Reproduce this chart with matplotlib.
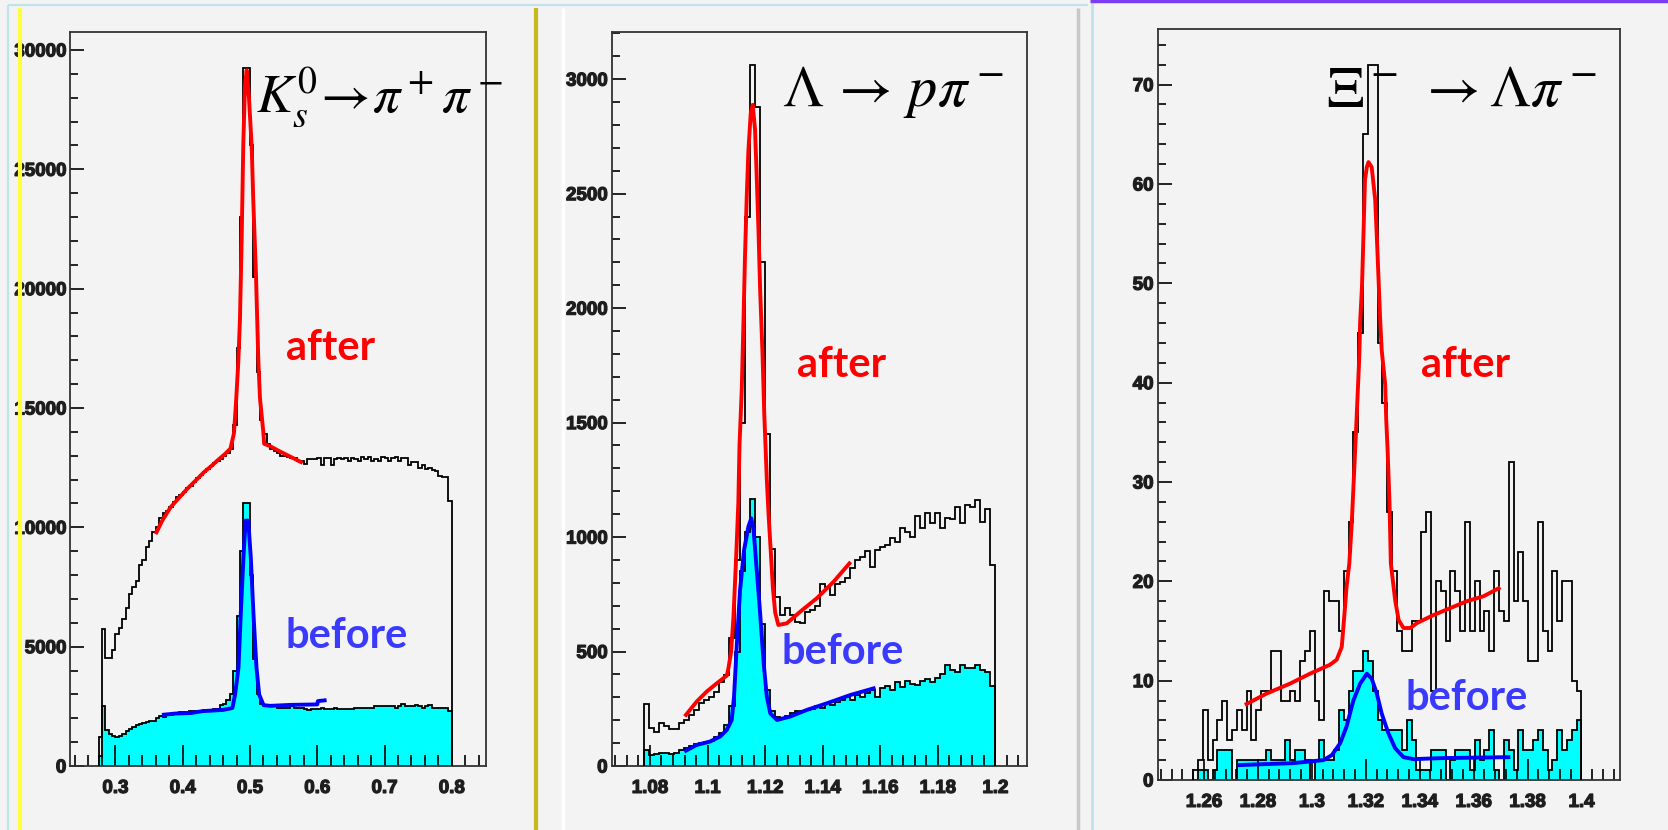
import numpy as np
import matplotlib
matplotlib.use("Agg")
import matplotlib.pyplot as plt
import matplotlib.patheffects as pe
from matplotlib.lines import Line2D
from matplotlib.ticker import MultipleLocator, FormatStrFormatter

# ---------------------------------------------------------------------------
# Data
# ---------------------------------------------------------------------------

# K0s -> pi+ pi-   (bins 0.275 .. 0.800)
k0s_range = (0.275, 0.800)
k0s_after = [1200, 5750, 4530, 4530, 4880, 5510, 5800, 6140, 6640, 7220,
             7500, 7760, 8430, 8630, 9160, 9440, 9790, 10000, 10400, 10600,
             10700, 10850, 11050, 11250, 11350, 11500, 11650, 11750, 11900, 12050,
             12200, 12320, 12450, 12550, 12700, 12800, 12850, 13000, 13100, 13300,
             14300, 17500, 23000, 29250, 29250, 26000, 20500, 16500, 14500, 13900,
             13500, 13300, 13200, 13100, 13000, 13000, 12950, 12900, 12900, 12800,
             12800, 12650, 12850, 12850, 12850, 12900, 12600, 12900, 12900, 12600,
             12850, 12900, 12850, 12900, 12800, 12900, 12850, 12800, 12950, 12850,
             12950, 12800, 12850, 12800, 12950, 12900, 12800, 12900, 12950, 12800,
             12900, 12900, 12600, 12750, 12750, 12500, 12600, 12450, 12500, 12400,
             12350, 12150, 12100, 12100, 11100]
k0s_before = [400, 2500, 1500, 1350, 1250, 1200, 1250, 1350, 1450, 1550,
              1650, 1700, 1750, 1800, 1850, 1900, 1900, 2000, 2100, 2050,
              2150, 2150, 2200, 2200, 2250, 2250, 2250, 2300, 2300, 2300,
              2300, 2350, 2350, 2350, 2400, 2400, 2550, 2600, 2750, 3000,
              4000, 6300, 9000, 11000, 11000, 8000, 4500, 3000, 2600, 2550,
              2500, 2500, 2500, 2450, 2450, 2450, 2450, 2500, 2450, 2450,
              2450, 2400, 2350, 2400, 2400, 2400, 2450, 2400, 2400, 2400,
              2450, 2400, 2400, 2400, 2400, 2400, 2450, 2450, 2450, 2450,
              2450, 2450, 2500, 2500, 2500, 2500, 2500, 2500, 2450, 2500,
              2600, 2500, 2500, 2500, 2550, 2500, 2450, 2500, 2550, 2450,
              2450, 2450, 2450, 2450, 2300]
k0s_fit_after_x = [0.361, 0.370, 0.382, 0.395, 0.407, 0.420, 0.432, 0.444, 0.452, 0.462,
                   0.471, 0.4762, 0.4792, 0.4826, 0.4851, 0.4876, 0.4901, 0.4926, 0.4951, 0.4985,
                   0.5025, 0.5049, 0.5089, 0.5124, 0.5149, 0.5198, 0.5211, 0.530, 0.541, 0.556,
                   0.5758]
k0s_fit_after_y = [9790, 10300, 10840, 11250, 11620, 11980, 12320, 12600, 12810, 13050,
                   13300, 13940, 15200, 16900, 18700, 22000, 26100, 28500, 29150, 28000,
                   26000, 23700, 20600, 17000, 15400, 14000, 13500, 13400, 13230, 13016,
                   12735]
k0s_fit_before_x = [0.372, 0.390, 0.412, 0.430, 0.460, 0.4739, 0.4778, 0.4829, 0.4863, 0.4903,
                    0.4935, 0.4975, 0.5012, 0.5052, 0.5097, 0.5137, 0.5202, 0.530, 0.560, 0.600,
                    0.601, 0.611]
k0s_fit_before_y = [2150, 2200, 2220, 2300, 2350, 2430, 2990, 4110, 6360, 8740,
                    10280, 10280, 8740, 6360, 4110, 2990, 2550, 2520, 2560, 2580,
                    2720, 2750]

# Lambda -> p pi-   (bins 1.078 .. 1.200)
lam_range = (1.078, 1.200)
lam_after = [271, 165, 150, 186, 175, 162, 162, 186, 201, 223,
             244, 274, 288, 302, 323, 368, 397, 560, 900, 1500,
             2400, 3060, 2880, 2200, 1450, 950, 740, 660, 688, 660,
             630, 623, 674, 681, 700, 797, 783, 747, 797, 805,
             820, 864, 900, 915, 937, 871, 944, 958, 966, 995,
             980, 1038, 1024, 1002, 1090, 1038, 1104, 1060, 1104, 1038,
             1082, 1078, 1131, 1060, 1141, 1133, 1162, 1067, 1122, 880]
lam_before = [70, 48, 52, 55, 58, 52, 58, 70, 77, 88,
              95, 100, 103, 110, 125, 145, 180, 260, 500, 850,
              1020, 1165, 1000, 620, 330, 240, 215, 210, 220, 230,
              240, 240, 245, 250, 260, 255, 275, 265, 280, 290,
              300, 290, 310, 300, 320, 330, 300, 340, 350, 330,
              365, 345, 370, 360, 355, 370, 380, 365, 385, 400,
              440, 420, 410, 440, 430, 430, 440, 420, 410, 350]
lam_fit_after_x = [1.0925, 1.0962, 1.0997, 1.1032, 1.1067, 1.1073, 1.1082, 1.1090, 1.1099, 1.1107,
                   1.1111, 1.1119, 1.1125, 1.1130, 1.1136, 1.1142, 1.1150, 1.1157, 1.1165, 1.1171,
                   1.1177, 1.1183, 1.1191, 1.1197, 1.1202, 1.1206, 1.1212, 1.1220, 1.1227, 1.1235,
                   1.1246, 1.1275, 1.1322, 1.1380, 1.1438, 1.1493]
lam_fit_after_y = [223, 281, 325, 361, 395, 430, 500, 650, 900, 1150,
                   1400, 1650, 1950, 2220, 2480, 2690, 2850, 2888, 2780, 2570,
                   2340, 2070, 1800, 1540, 1380, 1250, 1100, 930, 780, 670,
                   616, 623, 674, 733, 805, 885]
lam_fit_before_x = [1.0925, 1.0962, 1.1009, 1.1044, 1.1067, 1.1084, 1.1092, 1.1102, 1.1113, 1.1127,
                    1.1142, 1.1152, 1.1160, 1.1169, 1.1181, 1.1195, 1.1206, 1.1218, 1.1241, 1.1287,
                    1.1345, 1.1415, 1.1496, 1.1577]
lam_fit_before_y = [67, 92, 107, 129, 158, 201, 303, 536, 769, 944,
                    1046, 1082, 1031, 886, 696, 449, 303, 230, 201, 216,
                    245, 274, 310, 339]

# Xi- -> Lambda pi-   (bins 1.256 .. 1.400)
xi_range = (1.256, 1.400)
xi_after = [1, 2, 7, 2, 4, 6, 8, 4, 5, 7,
            5, 9, 4, 7, 9, 9, 13, 13, 8, 8,
            9, 8, 12, 13, 15, 8, 6, 19, 18, 18,
            15, 21, 26, 35, 45, 65, 72, 72, 44, 38,
            27, 21, 15, 13, 13, 16, 16, 25, 27, 9,
            20, 19, 14, 21, 19, 15, 26, 15, 20, 15,
            17, 13, 21, 17, 16, 32, 18, 23, 18, 12,
            12, 26, 15, 13, 21, 16, 20, 20, 10, 9]
xi_before = [0, 1, 1, 0, 1, 3, 3, 3, 0, 2,
             2, 2, 2, 2, 2, 3, 2, 2, 2, 4,
             2, 3, 3, 2, 0, 2, 4, 2, 2, 3,
             7, 6, 9, 11, 11, 13, 12, 9, 6, 5,
             5, 5, 5, 3, 6, 4, 1, 1, 1, 3,
             3, 3, 0, 2, 3, 3, 3, 1, 4, 2,
             3, 5, 1, 0, 4, 3, 1, 5, 3, 3,
             4, 5, 3, 1, 2, 5, 3, 4, 5, 6]
xi_fit_after_x = [1.2758, 1.2832, 1.2919, 1.2993, 1.3067, 1.3092, 1.3111, 1.3117, 1.3123, 1.3129,
                  1.3139, 1.3148, 1.3156, 1.3164, 1.3176, 1.3179, 1.3186, 1.3192, 1.3197, 1.3204,
                  1.3210, 1.3222, 1.3235, 1.3243, 1.3253, 1.3259, 1.3272, 1.3276, 1.3281, 1.3288,
                  1.3293, 1.3309, 1.3322, 1.3340, 1.3365, 1.3390, 1.3451, 1.3513, 1.3575, 1.3637,
                  1.3693]
xi_fit_after_y = [7.65, 8.7, 9.7, 10.7, 11.6, 12.1, 13.4, 15.4, 17.4, 19.5,
                  21.8, 25.8, 30.5, 35.2, 42.6, 46.0, 49.7, 55.4, 60.4, 61.7,
                  62.2, 61.7, 58.4, 53.4, 46.6, 43.3, 39.8, 36.2, 33.2, 27.9,
                  21.8, 18.1, 16.1, 15.3, 15.3, 15.8, 16.6, 17.3, 18.0, 18.5,
                  19.3]
xi_fit_before_x = [1.2731, 1.2931, 1.3043, 1.3074, 1.3105, 1.3129, 1.3154, 1.3179, 1.3204, 1.3222,
                   1.3241, 1.3259, 1.3284, 1.3309, 1.3340, 1.3377, 1.3476, 1.3729]
xi_fit_before_y = [1.5, 1.7, 2.0, 2.5, 3.7, 5.4, 8.0, 9.7, 10.7, 10.2,
                   8.7, 6.7, 4.7, 3.2, 2.3, 2.1, 2.2, 2.3]

titles = [r"$K_s^0\!\rightarrow\!\pi^+\pi^-$",
          r"$\Lambda\,\rightarrow\,p\pi^-$",
          r"$\Xi^-\;\rightarrow\Lambda\pi^-$"]

# ---------------------------------------------------------------------------
# Figure
# ---------------------------------------------------------------------------
W, H = 1668, 830
BG = "#f3f3f3"
plt.rcParams["mathtext.fontset"] = "stix"
plt.rcParams["font.family"] = ["Liberation Sans", "DejaVu Sans"]

fig = plt.figure(figsize=(W / 100, H / 100), dpi=100, facecolor=BG)
heavy = [pe.withStroke(linewidth=0.9, foreground="#1e1e1e")]


def px_axes(left, top, right, bottom):
    return fig.add_axes([left / W, 1 - bottom / H, (right - left) / W, (bottom - top) / H])


def px_text(x, y, s, **kw):
    fig.text(x / W, 1 - y / H, s, va="baseline", ha="left", **kw)


def px_line(x0, y0, x1, y1, color, lw):
    fig.add_artist(Line2D([x0 / W, x1 / W], [1 - y0 / H, 1 - y1 / H],
                          transform=fig.transFigure, color=color, lw=lw,
                          solid_capstyle="butt"))


# screenshot separators
px_line(8, 5, 1088, 5, "#bfe3ea", 1.6)
px_line(8, 5, 8, 830, "#bfe3ea", 1.6)
px_line(20, 8, 20, 830, "#ffff40", 3.0)
px_line(535.5, 8, 535.5, 830, "#c8b820", 3.0)
px_line(563, 8, 563, 830, "#ffffff", 2.5)
px_line(1078, 8, 1078, 830, "#c8c8c8", 2.5)
px_line(1092, 3, 1092, 830, "#bfe3ea", 2.0)
px_line(1090, 1.5, 1668, 1.5, "#7a3cf0", 2.5)

panels = [
    dict(rng=k0s_range, after=k0s_after, before=k0s_before,
         fa=(k0s_fit_after_x, k0s_fit_after_y), fb=(k0s_fit_before_x, k0s_fit_before_y),
         box=(70.4, 31.8, 486.4, 766), xlim=(0.2331, 0.8514), ylim=(0, 30762),
         xmaj=0.1, xmin=0.02, ymaj=5000, ymin=1000,
         title_xy=(256, 112), title_fs=39,
         after_xy=(286, 360), before_xy=(286, 648)),
    dict(rng=lam_range, after=lam_after, before=lam_before,
         fa=(lam_fit_after_x, lam_fit_after_y), fb=(lam_fit_before_x, lam_fit_before_y),
         box=(611.7, 31.8, 1027.3, 766), xlim=(1.0667, 1.2111), ylim=(0, 3207),
         xmaj=0.02, xmin=0.004, ymaj=500, ymin=100,
         title_xy=(782, 106), title_fs=42,
         after_xy=(797, 377), before_xy=(782, 664)),
    dict(rng=xi_range, after=xi_after, before=xi_before,
         fa=(xi_fit_after_x, xi_fit_after_y), fb=(xi_fit_before_x, xi_fit_before_y),
         box=(1157.6, 29, 1619.5, 780), xlim=(1.2428, 1.4141), ylim=(0, 75.6),
         xmaj=0.02, xmin=0.004, ymaj=10, ymin=2,
         title_xy=(1326, 106), title_fs=42,
         after_xy=(1421, 377), before_xy=(1406, 710)),
]

for i, p in enumerate(panels):
    ax = px_axes(*p["box"])
    ax.set_facecolor(BG)
    edges = np.linspace(p["rng"][0], p["rng"][1], len(p["after"]) + 1)

    ax.stairs(p["before"], edges, fill=True, color="#00ffff", zorder=1)
    ax.stairs(p["before"], edges, color="black", lw=1.3, baseline=0, zorder=2)
    ax.stairs(p["after"], edges, color="black", lw=1.3, baseline=0, zorder=3)
    ax.plot(*p["fa"], color="#ff0000", lw=2.8, zorder=4)
    ax.plot(*p["fb"], color="#0000ff", lw=2.8, zorder=4)

    ax.set_xlim(*p["xlim"])
    ax.set_ylim(*p["ylim"])
    ax.xaxis.set_major_locator(MultipleLocator(p["xmaj"]))
    ax.xaxis.set_minor_locator(MultipleLocator(p["xmin"]))
    ax.yaxis.set_major_locator(MultipleLocator(p["ymaj"]))
    ax.yaxis.set_minor_locator(MultipleLocator(p["ymin"]))
    ax.xaxis.set_major_formatter(FormatStrFormatter("%g"))
    ax.yaxis.set_major_formatter(FormatStrFormatter("%g"))
    ax.tick_params(axis="both", labelsize=13.5, labelcolor="#1e1e1e")
    ax.tick_params(axis="x", which="major", direction="in", length=15, width=1.2, pad=10)
    ax.tick_params(axis="x", which="minor", direction="in", length=8, width=1.2)
    ax.tick_params(axis="y", which="major", direction="in", length=10, width=1.2, pad=3)
    ax.tick_params(axis="y", which="minor", direction="in", length=6, width=1.2)
    for lab in ax.get_xticklabels() + ax.get_yticklabels():
        lab.set_fontweight("bold")
        lab.set_path_effects(heavy)
    for sp in ax.spines.values():
        sp.set_color("#333333")
        sp.set_linewidth(1.3)

    px_text(*p["title_xy"], titles[i], fontsize=p["title_fs"], color="black",
            fontweight="normal")
    px_text(*p["after_xy"], "after", fontsize=30, fontweight="bold",
            family="Lato", color="#ff0000")
    px_text(*p["before_xy"], "before", fontsize=30, fontweight="bold",
            family="Lato", color="#3a3aff")

fig.savefig("out.png", dpi=100, facecolor=BG)
